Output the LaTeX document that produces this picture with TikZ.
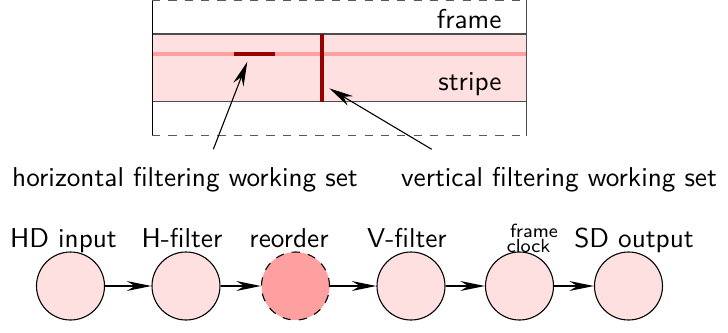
\documentclass[tikz,border=0pt]{standalone}
\usepackage{tikz}
\usetikzlibrary{arrows.meta}
\definecolor{lightpink}{RGB}{255,224,224}
\definecolor{midpink}{RGB}{255,160,160}
\definecolor{darkred}{RGB}{150,0,0}
\tikzset{
    stage/.style={circle, draw, thin, fill=lightpink, minimum size=68pt*0.367, inner sep=0pt},
    flow/.style={-{Stealth[length=9pt,width=3.6pt]}, line width=0.8pt},
    pointer/.style={-{Stealth[length=9pt,width=4pt]}, line width=0.4pt},
    txt/.style={font=\sffamily, anchor=base, inner sep=0pt},
    smalltxt/.style={txt, font=\sffamily\fontsize{7}{7}\selectfont}
}

\begin{document}
\begin{tikzpicture}[x=0.367pt, y=-0.367pt]
    \useasboundingbox (0,0) rectangle (728,332);
    % frame and stripe
    \fill[lightpink] (152,34) rectangle (527,101.7);
    \draw[line width=1.2pt, midpink] (152,54) to (527,54);
    \draw[thin, black!70] 
    (152,34) to (527,34)
    (152,101.7) to (527,101.7);
    \draw[thin] (152.3,0) to (152.3,135.7);
    \draw[thin, black!70] (526.5,0) to (526.5,135.7);
    \draw[dashed, thin, black!65] 
    (152,0.8) to (527,0.8)
    (152,135.7) to (527,135.7);
    \draw[line width=1.5pt, darkred] (234,54) to (275,54);
    \draw[line width=1.6pt, darkred] (322.3,34) to (322.3,101.7);
    \node[txt, anchor=base east] (frm) at (502,28) {frame};
    \node[txt, anchor=base east] (stp) at (502,90) {stripe};
    % working sets
    \node[txt] (hset) at (185,186) {horizontal filtering working set};
    \node[txt] (vset) at (559,186) {vertical filtering working set};
    \coordinate (htail) at (213.3,149.3);
    \coordinate (htip) at (247.3,61.7);
    \coordinate (vtail) at (431.7,149.3);
    \coordinate (vtip) at (329.3,88.3);
    \draw[pointer] (htail) to (htip);
    \draw[pointer] (vtail) to (vtip);
    % pipeline
    \node[stage] (hd) at (70.5,286) {};
    \node[stage] (hf) at (186,286) {};
    \node[stage, fill=midpink, dashed] (ro) at (295.5,286) {};
    \node[stage] (vf) at (411,286) {};
    \node[stage] (fc) at (519.5,286) {};
    \node[stage] (sd) at (628.5,286) {};
    \draw[flow] (hd) to (hf);
    \draw[flow] (hf) to (ro);
    \draw[flow] (ro) to (vf);
    \draw[flow] (vf) to (fc);
    \draw[flow] (fc) to (sd);
    \node[txt] (lhd) at (63.5,247) {HD input};
    \node[txt] (lhf) at (182,247) {H-filter};
    \node[txt] (lro) at (289,247) {reorder};
    \node[txt] (lvf) at (407,247) {V-filter};
    \node[smalltxt] (lfr) at (534,237) {frame};
    \node[smalltxt] (lck) at (528.5,252) {clock};
    \node[txt] (lsd) at (634,247) {SD output};
\end{tikzpicture}
\end{document}
